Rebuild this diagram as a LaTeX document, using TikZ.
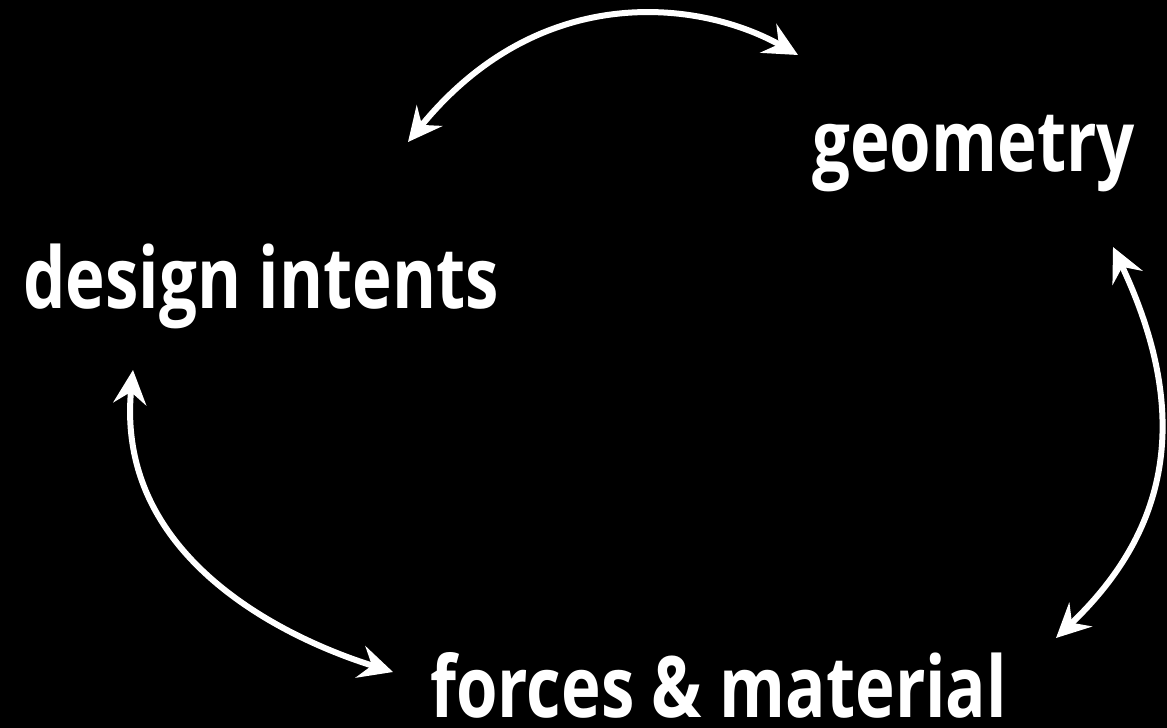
\documentclass[tikz,border=0pt]{standalone}
\usepackage{fontspec}
\setmainfont{Open Sans}[BoldFont={* Bold}, FakeStretch=0.79]
\usetikzlibrary{arrows.meta}
\begin{document}
\begin{tikzpicture}[x=1pt,y=-1pt,
  lbl/.style={anchor=base west, inner sep=0pt, text depth=0pt, text=white, font=\fontsize{85}{90}\selectfont\bfseries},
  link/.style={draw=white, line width=6pt, {Stealth[length=34pt,width=33pt,inset=12pt]}-{Stealth[length=34pt,width=33pt,inset=12pt]}}]
\fill[black] (0,0) rectangle (1167,728);
\useasboundingbox (0,0) rectangle (1167,728);
\node[lbl] (design) at (23,308) {design intents};
\node[lbl] (geom) at (812,171) {geometry};
\node[lbl] (forces) at (430,717) {forces \& material};
\coordinate (a1) at (408,142);
\coordinate (a2) at (798,55);
\coordinate (b1) at (1113,247);
\coordinate (b2) at (1056,638);
\coordinate (c1) at (133,370);
\coordinate (c2) at (393,672);
\path[link] (a1) .. controls (540,-20) and (700,0) .. (a2);
\path[link] (b1) .. controls (1185,400) and (1180,520) .. (b2);
\path[link] (c1) .. controls (115,560) and (290,640) .. (c2);
\end{tikzpicture}
\end{document}
